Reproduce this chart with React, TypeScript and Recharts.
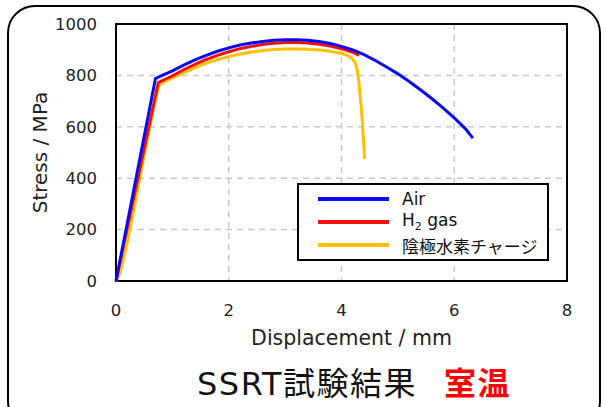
import React from 'react';
import { LineChart, Line, XAxis, YAxis, CartesianGrid, ReferenceArea, Label } from 'recharts';

// displacement (mm) / stress (MPa)
const airX = [0, 0.7, 0.8, 0.9, 1.0, 1.2, 1.4, 1.6, 1.8, 2.0, 2.2, 2.4, 2.6, 2.8, 3.0, 3.2, 3.4, 3.6, 3.8, 4.0, 4.2, 4.4, 4.6, 4.8, 5.0, 5.2, 5.4, 5.6, 5.8, 6.0, 6.2, 6.33];
const airY = [0, 788, 798, 808, 818, 840, 860, 878, 894, 907, 918, 926, 932, 937, 939, 939, 937, 932, 924, 913, 899, 881, 858, 833, 806, 776, 744, 710, 674, 635, 592, 556];

const h2X = [0, 0.75, 0.9, 1.0, 1.2, 1.4, 1.6, 1.8, 2.0, 2.2, 2.4, 2.6, 2.8, 3.0, 3.2, 3.4, 3.6, 3.8, 4.0, 4.2, 4.31];
const h2Y = [0, 772, 788, 798, 822, 843, 862, 878, 892, 904, 913, 920, 925, 928, 928, 926, 921, 914, 904, 890, 878];

const chargeX = [0, 0.05, 0.1, 0.2, 0.3, 0.4, 0.5, 0.6, 0.7, 0.76, 0.85, 1.0, 1.2, 1.4, 1.6, 1.8, 2.0, 2.2, 2.4, 2.6, 2.8, 3.0, 3.2, 3.4, 3.6, 3.8, 4.0, 4.1, 4.18, 4.24, 4.28, 4.31, 4.34, 4.37, 4.39, 4.41];
const chargeY = [0, 20, 55, 150, 260, 375, 490, 600, 705, 760, 775, 790, 810, 830, 848, 862, 873, 883, 891, 897, 901, 903, 903, 902, 899, 894, 886, 878, 868, 852, 820, 770, 700, 620, 550, 475];

const xTicks = [0, 2, 4, 6, 8];
const yTicks = [0, 200, 400, 600, 800, 1000];

const seriesNames = ['Air', 'H2 gas', '陰極水素チャージ'];
const seriesColors = ['#0a0af0', '#f01010', '#ffc000'];

const toRows = (xs: number[], ys: number[]) => xs.map((x, i) => ({ x, y: ys[i] }));

const font = '"DejaVu Sans", Verdana, sans-serif';

const LegendBox = () => (
  <div
    style={{
      position: 'absolute',
      left: 297,
      top: 183,
      width: 248,
      height: 74,
      border: '2px solid #000',
      background: '#fff',
      fontFamily: '"DejaVu Sans", "Noto Sans CJK JP", sans-serif',
      fontSize: 17,
      color: '#111',
    }}
  >
    {seriesNames.map((name, i) => (
      <div key={name} style={{ position: 'absolute', left: 19, top: 3 + i * 23, height: 22, display: 'flex', alignItems: 'center' }}>
        <div style={{ width: 71, height: 4, background: seriesColors[i], marginRight: 13 }} />
        <span style={{ whiteSpace: 'nowrap' }}>{name === 'H2 gas' ? <>H<sub style={{ fontSize: 11 }}>2</sub> gas</> : name}</span>
      </div>
    ))}
  </div>
);

export default function App() {
  return (
    <div style={{ position: 'absolute', left: 0, top: 0, width: 606, height: 407, overflow: 'hidden', background: '#fff' }}>
      <div
        style={{
          position: 'absolute',
          left: 7,
          top: 5,
          width: 590,
          height: 420,
          border: '2px solid #000',
          borderRadius: 28,
        }}
      />
      <div style={{ position: 'absolute', left: 0, top: 0 }}>
        <LineChart width={606} height={407} margin={{ top: 24, right: 39, left: 56, bottom: 66 }}>
          <CartesianGrid stroke="#c8c8c8" strokeDasharray="6 5" strokeWidth={1.5} />
          <XAxis
            type="number"
            dataKey="x"
            domain={[0, 8]}
            ticks={xTicks}
            tickLine={false}
            axisLine={false}
            tickMargin={17}
            height={60}
            tick={{ fill: '#222', fontSize: 16.5, fontFamily: font }}
          >
            <Label value="Displacement / mm" position="insideBottom" offset={-4} dx={10} style={{ fill: '#222', fontSize: 20.5, fontFamily: font }} />
          </XAxis>
          <YAxis
            type="number"
            dataKey="y"
            domain={[0, 1000]}
            ticks={yTicks}
            tickLine={false}
            axisLine={false}
            tickMargin={13}
            width={60}
            tick={{ fill: '#222', fontSize: 16.5, fontFamily: font }}
          >
            <Label value="Stress / MPa" angle={-90} position="insideLeft" offset={-16} style={{ fill: '#222', fontSize: 20, fontFamily: font, textAnchor: 'middle' }} />
          </YAxis>
          <ReferenceArea x1={0} x2={8} y1={0} y2={1000} fill="none" stroke="#000" strokeWidth={2} strokeOpacity={1} />
          <Line data={toRows(chargeX, chargeY)} dataKey="y" type="linear" stroke={seriesColors[2]} strokeWidth={3} dot={false} isAnimationActive={false} />
          <Line data={toRows(h2X, h2Y)} dataKey="y" type="linear" stroke={seriesColors[1]} strokeWidth={3} dot={false} isAnimationActive={false} />
          <Line data={toRows(airX, airY)} dataKey="y" type="linear" stroke={seriesColors[0]} strokeWidth={3} dot={false} isAnimationActive={false} />
        </LineChart>
      </div>
      <LegendBox />
      <div
        style={{
          position: 'absolute',
          left: 197,
          top: 362,
          height: 44,
          lineHeight: '44px',
          fontFamily: '"DejaVu Sans", "Noto Sans CJK JP", sans-serif',
          fontSize: 32,
          letterSpacing: 1.5,
          color: '#111',
          whiteSpace: 'nowrap',
        }}
      >
        SSRT試験結果
        <span style={{ color: '#ff0000', fontWeight: 700, marginLeft: 27 }}>室温</span>
      </div>
    </div>
  );
}
